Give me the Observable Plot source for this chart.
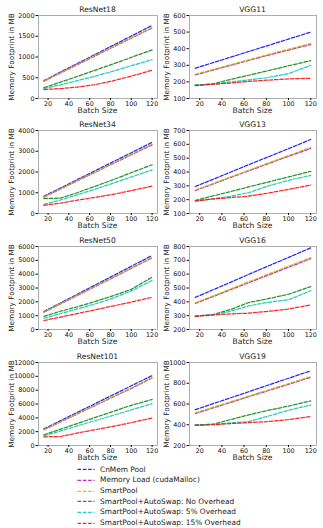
<!DOCTYPE html>
<html><head><meta charset="utf-8">
<script src="https://cdn.jsdelivr.net/npm/d3@7"></script>
<script src="https://cdn.jsdelivr.net/npm/@observablehq/plot@0.6"></script>
<style>
body{margin:0;background:#fff;}
#c{position:relative;width:323px;height:528px;font-family:"DejaVu Sans",sans-serif;color:#222;overflow:hidden;background:#fff}
.t{position:absolute;transform:translate(-50%,-50%);white-space:nowrap;font-size:7.6px;line-height:1}
.yl{position:absolute;transform:translate(-50%,-50%) rotate(-90deg);white-space:nowrap;font-size:7.3px;line-height:1}
.lg{position:absolute;left:0;white-space:nowrap;font-size:7.4px;line-height:1;transform:translateY(-50%)}
</style></head><body><div id="c"></div>
<script>
const batch = [16, 32, 48, 64, 80, 100, 120];
const xTicks = [20, 40, 60, 80, 100, 120];
const series = ["CnMem Pool", "Memory Load (cudaMalloc)", "SmartPool",
  "SmartPool+AutoSwap: No Overhead", "SmartPool+AutoSwap: 5% Overhead", "SmartPool+AutoSwap: 15% Overhead"];
const colors = ["#0000ff", "#bf00bf", "#bfbf00", "#008000", "#00bfbf", "#ff0000"];

// series order: CnMem, Memory Load, SmartPool, No Overhead, 5%, 15%
const resnet18 = [
  [430, 640, 840, 1045, 1250, 1505, 1760],
  [415, 615, 815, 1010, 1210, 1455, 1700],
  [420, 620, 820, 1020, 1220, 1465, 1710],
  [260, 395, 530, 670, 810, 990, 1170],
  [240, 330, 430, 530, 640, 790, 935],
  [215, 240, 275, 330, 410, 540, 680]];
const vgg11 = [
  [282, 316, 349, 383, 416, 458, 500],
  [242, 271, 300, 329, 358, 392, 425],
  [246, 275, 304, 333, 362, 397, 432],
  [180, 188, 215, 240, 265, 297, 328],
  [180, 187, 200, 212, 225, 250, 300],
  [178, 186, 193, 203, 210, 218, 222]];
const resnet34 = [
  [830, 1230, 1630, 2030, 2430, 2930, 3430],
  [790, 1180, 1570, 1960, 2345, 2830, 3310],
  [800, 1190, 1580, 1970, 2360, 2850, 3340],
  [720, 740, 1000, 1290, 1580, 1970, 2350],
  [440, 650, 900, 1150, 1420, 1760, 2100],
  [390, 500, 640, 770, 900, 1100, 1320]];
const vgg13 = [
  [295, 347, 400, 452, 504, 569, 635],
  [266, 313, 361, 408, 455, 514, 570],
  [270, 317, 365, 412, 460, 519, 578],
  [195, 227, 259, 292, 324, 364, 405],
  [192, 205, 225, 250, 295, 340, 375],
  [190, 205, 215, 225, 245, 275, 305]];
const resnet50 = [
  [1300, 1920, 2540, 3170, 3790, 4570, 5350],
  [1250, 1850, 2450, 3060, 3660, 4420, 5180],
  [1260, 1870, 2470, 3080, 3690, 4450, 5210],
  [950, 1320, 1640, 2000, 2380, 2900, 3780],
  [800, 1150, 1480, 1820, 2200, 2780, 3550],
  [650, 900, 1150, 1400, 1660, 1980, 2330]];
const vgg16 = [
  [432, 487, 542, 598, 653, 721, 790],
  [388, 438, 488, 538, 588, 650, 712],
  [393, 443, 494, 545, 595, 658, 720],
  [297, 308, 345, 395, 420, 455, 510],
  [297, 306, 332, 370, 395, 415, 480],
  [295, 305, 313, 318, 330, 348, 378]];
const resnet101 = [
  [2400, 3590, 4780, 5960, 7150, 8630, 10100],
  [2280, 3420, 4560, 5700, 6840, 8250, 9750],
  [2300, 3450, 4600, 5750, 6900, 8320, 9820],
  [1550, 2360, 3170, 3980, 4800, 5810, 6650],
  [1400, 2110, 2830, 3540, 4250, 5140, 6050],
  [1250, 1300, 1800, 2250, 2700, 3300, 3980]];
const vgg19 = [
  [545, 603, 660, 718, 776, 848, 920],
  [508, 562, 616, 670, 723, 790, 857],
  [515, 569, 622, 676, 730, 797, 865],
  [398, 405, 450, 495, 535, 580, 630],
  [398, 404, 418, 430, 478, 540, 590],
  [395, 400, 412, 420, 430, 450, 480]];

const panels = [
  ["ResNet18", resnet18, [0, 2000], [0, 500, 1000, 1500, 2000], 0, 0],
  ["VGG11", vgg11, [100, 600], [100, 200, 300, 400, 500, 600], 1, 0],
  ["ResNet34", resnet34, [0, 4000], [0, 1000, 2000, 3000, 4000], 0, 1],
  ["VGG13", vgg13, [100, 700], [100, 200, 300, 400, 500, 600, 700], 1, 1],
  ["ResNet50", resnet50, [0, 6000], [0, 1000, 2000, 3000, 4000, 5000, 6000], 0, 2],
  ["VGG16", vgg16, [200, 800], [200, 300, 400, 500, 600, 700, 800], 1, 2],
  ["ResNet101", resnet101, [0, 12000], [0, 2000, 4000, 6000, 8000, 10000, 12000], 0, 3],
  ["VGG19", vgg19, [200, 1000], [200, 400, 600, 800, 1000], 1, 3]];

const rowTops = [0, 115, 231, 347];
const root = document.getElementById("c");
const MT = 15, FH = 83, MB = 22;

function addDiv(cls, text, x, y) {
  const d = document.createElement("div");
  d.className = cls; d.textContent = text;
  d.style.left = x + "px"; d.style.top = y + "px";
  root.appendChild(d);
  return d;
}

for (const [name, vals, yDomain, yTicks, col, row] of panels) {
  const L = col === 0 ? {left: 0, width: 160, ml: 38, mr: 3} : {left: 160, width: 163, ml: 29, mr: 7};
  const lines = vals.map((arr, s) =>
    Plot.line(arr.map((v, i) => ({x: batch[i], y: v})), {
      x: "x", y: "y", stroke: colors[s], strokeWidth: 1.25, strokeOpacity: 0.85,
      strokeDasharray: "3.6,1.7"
    }));
  const svg = Plot.plot({
    width: L.width, height: MT + FH + MB,
    marginLeft: L.ml, marginRight: L.mr, marginTop: MT, marginBottom: MB,
    style: {background: "transparent", fontFamily: "DejaVu Sans", fontSize: "6.4px", color: "#111", overflow: "visible"},
    x: {domain: [10.8, 125.2]},
    y: {domain: yDomain},
    marks: [
      ...lines,
      Plot.frame({stroke: "#9a9a9a", strokeWidth: 0.8}),
      Plot.axisX({ticks: xTicks, tickSize: 2, tickPadding: 0.5, label: null, tickFormat: d => String(d)}),
      Plot.axisY({ticks: yTicks, tickSize: 2.5, tickPadding: 1.5, label: null, tickFormat: d => String(d)})
    ]
  });
  svg.style.position = "absolute";
  svg.style.left = L.left + "px";
  svg.style.top = rowTops[row] + "px";
  root.appendChild(svg);
  const cx = L.left + L.ml + (L.width - L.ml - L.mr) / 2;
  addDiv("t", name, cx, rowTops[row] + 10);
  addDiv("t", "Batch Size", cx, rowTops[row] + MT + FH + 13);
  addDiv("yl", "Memory Footprint in MB", col === 0 ? 12 : 167, rowTops[row] + MT + FH / 2);
}

// legend
const legY = [469.5, 480.2, 490.9, 501.6, 512.3, 523];
series.forEach((s, i) => {
  const d = document.createElement("div");
  d.className = "lg";
  d.style.left = "77px"; d.style.top = legY[i] + "px";
  d.style.display = "flex"; d.style.alignItems = "center";
  d.innerHTML = `<svg width="18" height="6" style="margin-right:5px"><line x1="0.5" y1="3" x2="17.5" y2="3" stroke="${colors[i]}" stroke-opacity="0.85" stroke-width="1.25" stroke-dasharray="3.6,1.7"/></svg><span></span>`;
  d.querySelector("span").textContent = s;
  root.appendChild(d);
});
</script></body></html>
